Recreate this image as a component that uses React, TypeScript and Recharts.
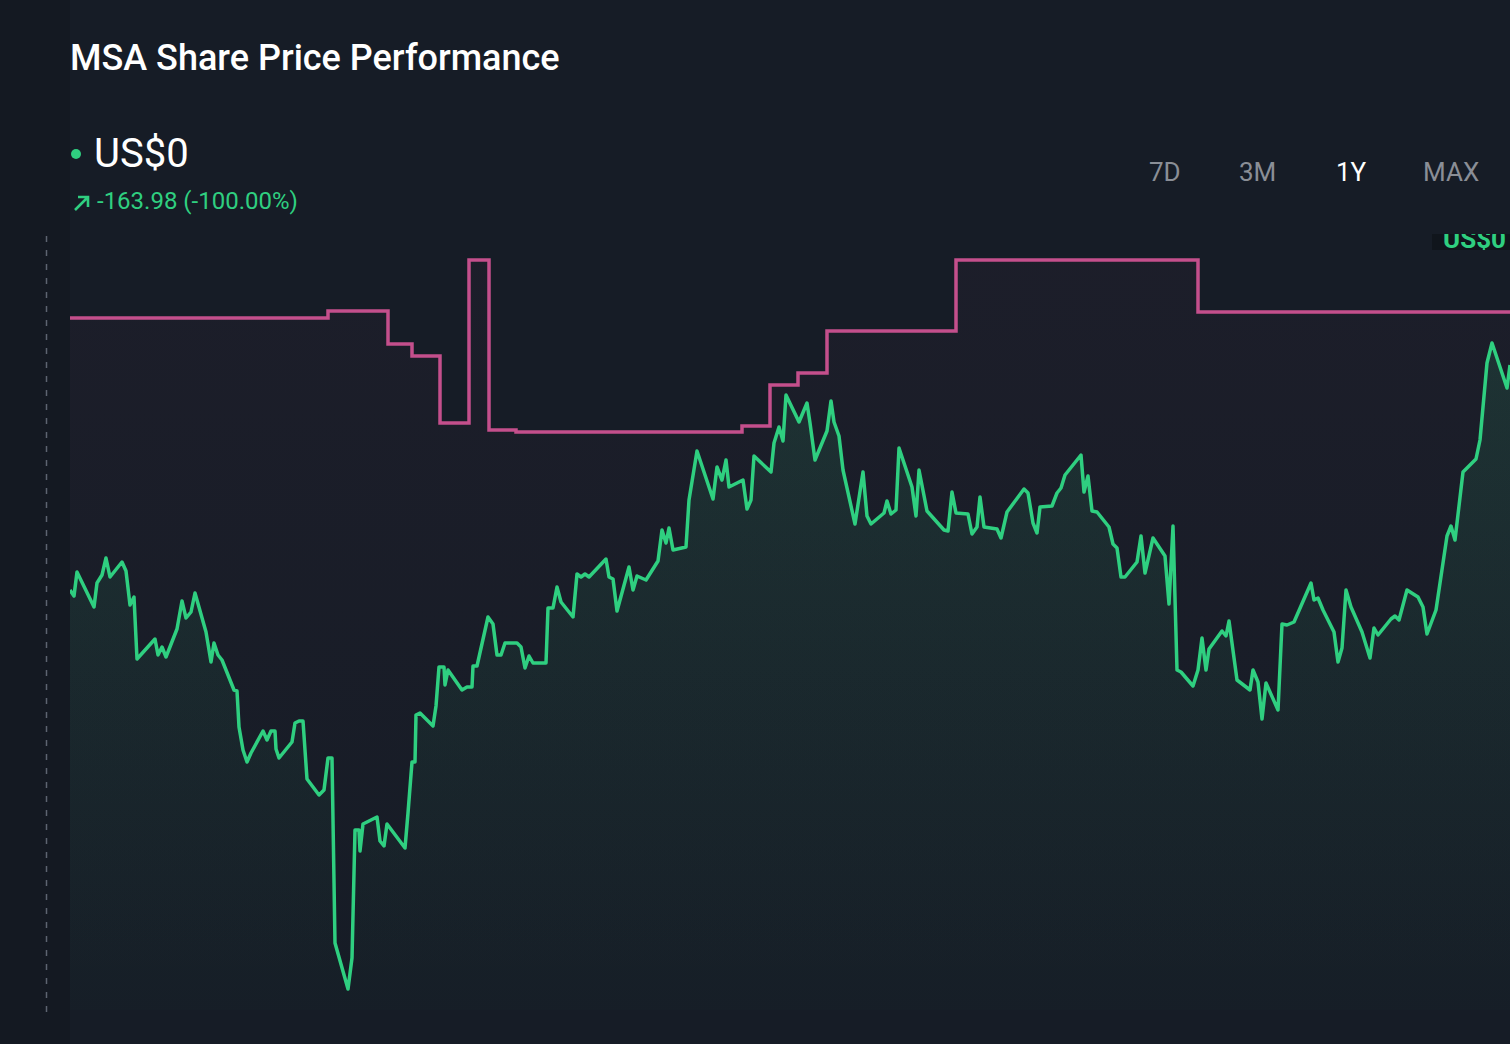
import React from 'react'
import { ComposedChart, Area, XAxis, YAxis } from 'recharts'

// day of the year, price
const priceDays = [
  0, 1, 1.75, 6, 6.75, 8, 9, 10, 13, 14, 15, 16, 16.75, 21.25, 22, 23, 24, 26.75, 28, 29, 30.25, 31.25,
  34, 35.25, 36, 37, 38, 41, 41.75, 42.25, 43.25, 44.25, 45.25, 48.25, 49.25, 50.25, 51.25, 51.5, 52.25,
  55.5, 56.25, 57.25, 58.25, 59.25, 62.25, 63.5, 64.5, 65.5, 66.25, 69.5, 70.5, 71.25, 72.25, 72.5, 73.25,
  76.75, 77.5, 78.5, 79.25, 83.75, 84.5, 85.5, 86.25, 86.5, 87.5, 90.75, 91.5, 92.25, 93.5, 93.75, 94.5,
  98, 99.25, 100.5, 100.75, 101.75, 104.5, 105.75, 106.75, 107.75, 108.75, 111.75, 112.75, 113.75, 114.75,
  115.75, 119, 119.5, 120.75, 121.75, 122.75, 125.75, 126.75, 127.75, 128.75, 129.75, 134, 134.75, 135.75,
  136.75, 139.75, 140.75, 141.75, 144, 147, 148, 149, 149.75, 150.75, 154, 154.75, 156.75, 160.75, 161.75,
  163, 164, 164.75, 168.25, 169.25, 170.25, 171, 175.25, 176, 177.25, 178.25, 179, 182.25, 184.25, 185,
  186.25, 189.25, 190.25, 191, 192.25, 193.25, 196.25, 198.25, 199.25, 200.25, 203.5, 204.25, 205.25,
  206.5, 207.25, 210.5, 211.5, 212.25, 214.25, 218.5, 219.5, 220.5, 221.5, 224.5, 225.5, 226.75, 227.5,
  228.5, 231.75, 232.75, 234.25, 238.5, 239.5, 240.75, 241.75, 242.5, 245.5, 246.75, 247.75, 248.75,
  252.75, 253.5, 254.5, 255.5, 256.75, 259.75, 260.75, 261.75, 262.75, 263.75, 266.75, 267.75, 268.75,
  270.75, 273.75, 274.75, 275.75, 276.75, 277.75, 280.75, 282, 283, 284, 284.75, 288, 289, 289.75, 291.75,
  295, 295.75, 297, 298, 299, 302, 303, 304.25, 306, 310.25, 311, 312, 313.25, 316, 317, 318, 319, 320.25,
  323, 325, 326, 327, 330.25, 331.25, 332.25, 334.25, 337, 338.25, 339.25, 341.5, 344.25, 345.25, 346.25,
  348.25, 351.5, 352.5, 354.25, 355.5, 359.25, 360,
]
const priceValues = [
  142.0, 141.4, 143.8, 140.3, 142.7, 143.5, 145.2, 143.3, 144.8, 143.9, 140.5, 141.3, 135.1, 137.1, 135.5,
  136.3, 135.3, 138.1, 140.9, 139.2, 139.8, 141.7, 137.8, 134.8, 136.7, 135.5, 135.0, 132.0, 131.9, 128.3,
  126.0, 124.8, 125.7, 127.9, 127.0, 127.9, 127.9, 126.1, 125.2, 126.8, 128.7, 128.9, 128.9, 123.1, 121.5,
  122.0, 125.2, 125.2, 106.7, 102.1, 105.2, 118.0, 118.0, 115.9, 118.6, 119.3, 116.9, 116.4, 118.6, 116.2,
  119.7, 124.8, 124.8, 129.5, 129.7, 128.4, 130.4, 134.3, 134.3, 132.5, 134.0, 132.0, 132.3, 132.3, 134.4,
  134.4, 139.3, 138.6, 135.5, 135.5, 136.7, 136.7, 136.3, 134.2, 135.4, 134.7, 134.7, 140.2, 140.2, 142.3,
  140.8, 139.3, 143.6, 143.3, 143.6, 143.3, 145.1, 143.3, 143.1, 139.9, 144.3, 142.0, 143.4, 143.0, 144.9,
  148.0, 146.7, 148.2, 146.0, 146.3, 151.0, 155.9, 151.1, 154.3, 153.0, 155.0, 152.3, 153.0, 150.1, 151.0,
  155.4, 153.8, 156.7, 158.3, 156.9, 161.5, 158.8, 160.7, 158.7, 155.0, 157.9, 160.9, 158.8, 157.4, 154.0,
  148.6, 153.8, 149.4, 148.6, 149.7, 150.9, 149.6, 150.0, 156.2, 152.3, 149.4, 154.0, 149.9, 148.0, 147.9,
  151.8, 149.7, 149.6, 147.6, 148.3, 151.3, 148.3, 148.1, 147.2, 149.8, 152.1, 151.7, 148.7, 147.7, 150.3,
  150.4, 151.7, 152.2, 153.5, 155.5, 151.8, 153.4, 149.9, 149.8, 148.3, 146.6, 146.2, 143.3, 143.3, 144.8,
  147.4, 143.7, 147.2, 145.4, 140.6, 148.4, 134.0, 133.8, 132.4, 134.0, 137.2, 134.0, 136.1, 137.9, 137.4,
  138.9, 133.0, 132.0, 134.0, 132.8, 129.1, 132.7, 130.0, 138.6, 138.5, 138.8, 142.7, 141.0, 141.2, 140.0,
  137.8, 134.8, 136.2, 142.0, 140.3, 137.8, 135.2, 138.2, 137.5, 139.1, 139.4, 139.0, 142.0, 141.3, 140.3,
  137.6, 140.0, 147.4, 148.4, 147.0, 153.8, 155.1, 157.0, 164.7, 166.7, 162.2, 164.5,
]

// stepped reference line
const stepDays = [0, 64.5, 79.5, 85.5, 92.5, 99.75, 104.75, 111.5, 168, 175, 182, 189.25, 221.5, 282, 360]
const stepValues = [169.2, 169.9, 166.6, 165.4, 158.7, 175.0, 158.0, 157.8, 158.4, 162.5, 163.7, 167.9, 175.0, 169.8, 169.8]

const ranges = ['7D', '3M', '1Y', 'MAX']
const activeRange = '1Y'

const priceData = priceDays.map((d, i) => ({ day: d, price: priceValues[i] }))
const stepData = stepDays.map((d, i) => ({ day: d, level: stepValues[i] }))

const GREEN = '#2fcf80'
const PINK = '#c44f8c'
const FONT = 'Roboto, "Noto Sans", sans-serif'

export default function App() {
  return (
    <div
      style={{
        position: 'absolute',
        left: 0,
        top: 0,
        width: 1510,
        height: 1044,
        overflow: 'hidden',
        background: '#161c26',
        fontFamily: FONT,
      }}
    >
      {/* darker strip on the left */}
      <div style={{ position: 'absolute', left: 0, top: 0, width: 70, height: 1044, background: '#141922' }} />

      <div style={{ position: 'absolute', left: 70, top: 38, fontSize: 36, lineHeight: '40px', fontWeight: 500, color: '#ffffff' }}>
        MSA Share Price Performance
      </div>

      <div style={{ position: 'absolute', left: 71, top: 149, width: 10, height: 10, borderRadius: 5, background: GREEN }} />
      <div style={{ position: 'absolute', left: 94, top: 130, fontSize: 40, color: '#ffffff', lineHeight: '48px' }}>
        US$0
      </div>

      <svg style={{ position: 'absolute', left: 72, top: 193 }} width={20} height={20}>
        <path d="M3 17 L16 4 M6 4 L16 4 L16 14" stroke={GREEN} strokeWidth={2.6} fill="none" />
      </svg>
      <div style={{ position: 'absolute', left: 97, top: 186, fontSize: 24, color: GREEN, lineHeight: '30px' }}>
        -163.98 (-100.00%)
      </div>

      {ranges.map((r, i) => (
        <div
          key={r}
          style={{
            position: 'absolute',
            left: [1149, 1239, 1336, 1423][i],
            top: 155,
            fontSize: 26,
            lineHeight: '34px',
            color: r === activeRange ? '#ffffff' : '#8a8e96',
          }}
        >
          {r}
        </div>
      ))}

      {/* dashed guide */}
      <svg style={{ position: 'absolute', left: 40, top: 236 }} width={12} height={780}>
        <line x1={6.5} y1={0} x2={6.5} y2={776} stroke="#5d6471" strokeWidth={1.5} strokeDasharray="6 8" />
      </svg>

      <div style={{ position: 'absolute', left: 0, top: 0 }}>
        <ComposedChart width={1510} height={1044} margin={{ top: 240, right: 0, left: 70, bottom: 34 }}>
          <defs>
            <linearGradient id="greenFill" x1="0" y1="0" x2="0" y2="1">
              <stop offset="0%" stopColor={GREEN} stopOpacity={0.2} />
              <stop offset="100%" stopColor={GREEN} stopOpacity={0.02} />
            </linearGradient>
            <linearGradient id="pinkFill" x1="0" y1="0" x2="0" y2="1">
              <stop offset="0%" stopColor={PINK} stopOpacity={0.06} />
              <stop offset="100%" stopColor={PINK} stopOpacity={0.0} />
            </linearGradient>
          </defs>
          <XAxis dataKey="day" type="number" domain={[0, 360]} hide allowDataOverflow />
          <YAxis type="number" domain={[100, 177]} hide allowDataOverflow />
          <Area
            data={stepData}
            dataKey="level"
            type="stepAfter"
            stroke={PINK}
            strokeWidth={3.5}
            fill="url(#pinkFill)"
            isAnimationActive={false}
            dot={false}
            activeDot={false}
          />
          <Area
            data={priceData}
            dataKey="price"
            type="linear"
            stroke={GREEN}
            strokeWidth={3.5}
            strokeLinejoin="round"
            fill="url(#greenFill)"
            isAnimationActive={false}
            dot={false}
            activeDot={false}
          />
        </ComposedChart>
      </div>

      {/* current price tag, mostly hidden above the plot */}
      <div
        style={{
          position: 'absolute',
          left: 1432,
          top: 234,
          width: 90,
          height: 16,
          overflow: 'hidden',
          background: '#10151c',
        }}
      >
        <div
          style={{
            position: 'absolute',
            left: 11,
            top: -8,
            fontSize: 26,
            lineHeight: '26px',
            fontWeight: 700,
            color: GREEN,
          }}
        >
          US$0
        </div>
      </div>
    </div>
  )
}
